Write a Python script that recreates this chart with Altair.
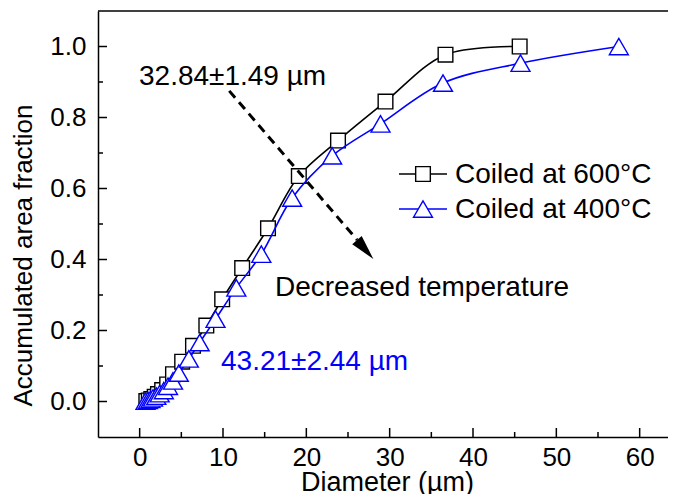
import altair as alt
import pandas as pd

# ---- data ----
x600 = [0.8, 1.1, 1.4, 1.8, 2.2, 2.7, 3.3, 4.0, 5.1, 6.4, 8.0, 9.9, 12.3, 15.4, 19.1, 23.8, 29.5, 36.7, 45.6]
y600 = [0.001, 0.003, 0.007, 0.013, 0.021, 0.032, 0.048, 0.077, 0.112, 0.157, 0.214, 0.288, 0.376, 0.488, 0.635, 0.735, 0.845, 0.977, 1.0]

x400 = [0.7, 1.0, 1.3, 1.6, 2.0, 2.4, 2.9, 3.4, 4.0, 4.7, 5.9, 7.2, 9.1, 11.6, 14.6, 18.3, 23.1, 28.9, 36.4, 45.7, 57.5]
y400 = [0.001, 0.003, 0.006, 0.010, 0.015, 0.022, 0.031, 0.043, 0.058, 0.080, 0.120, 0.166, 0.232, 0.320, 0.415, 0.573, 0.692, 0.782, 0.897, 0.953, 1.0]

series_labels = ["Coiled at 600°C", "Coiled at 400°C"]
annotations = ["32.84±1.49 µm", "43.21±2.44 µm", "Decreased temperature"]

x_major = [0, 10, 20, 30, 40, 50, 60]
x_minor = [5, 15, 25, 35, 45, 55]
y_major = [0.0, 0.2, 0.4, 0.6, 0.8, 1.0]
y_minor = [0.1, 0.3, 0.5, 0.7, 0.9]

# ---- layout / style ----
W, H = 570, 426
FONT = "Liberation Sans"
BLUE = "#0000FF"
BLACK = "#000000"
TXT = 28

xs = alt.Scale(domain=[-5, 63.4], nice=False, zero=False)
ys = alt.Scale(domain=[-0.1, 1.1], nice=False, zero=False)

df600 = pd.DataFrame({"d": x600, "f": y600})
df400 = pd.DataFrame({"d": x400, "f": y400})

ax_x = alt.Axis(orient="bottom", values=x_major, format="d", ticks=False, grid=False,
                labelFont=FONT, labelFontSize=26, labelColor=BLACK, labelPadding=7, labelFlush=False,
                title="Diameter (µm)", titleFont=FONT, titleFontSize=27, titleFontWeight="normal",
                titleColor=BLACK, titleX=289, titleY=53, titleBaseline="alphabetic",
                domainColor=BLACK, domainWidth=1.5)
ax_y = alt.Axis(orient="left", values=y_major, format=".1f", ticks=False, grid=False,
                labelFont=FONT, labelFontSize=26, labelColor=BLACK, labelPadding=12, labelFlush=False,
                title="Accumulated area fraction", titleFont=FONT, titleFontSize=26,
                titleFontWeight="normal", titleColor=BLACK, titleAngle=270, titleX=-67, titleY=244,
                titleBaseline="alphabetic", titleAlign="center",
                domainColor=BLACK, domainWidth=1.5)

line600 = alt.Chart(df600).mark_line(color=BLACK, strokeWidth=1.6, interpolate="catmull-rom").encode(
    x=alt.X("d:Q", scale=xs, axis=ax_x),
    y=alt.Y("f:Q", scale=ys, axis=ax_y),
)
pts600 = alt.Chart(df600).mark_point(shape="square", size=215, filled=True, fill="white",
                                     stroke=BLACK, strokeWidth=1.4, opacity=1).encode(
    x=alt.X("d:Q", scale=xs, axis=None),
    y=alt.Y("f:Q", scale=ys, axis=None),
)
line400 = alt.Chart(df400).mark_line(color=BLUE, strokeWidth=1.6, interpolate="catmull-rom").encode(
    x=alt.X("d:Q", scale=xs, axis=None),
    y=alt.Y("f:Q", scale=ys, axis=None),
)
pts400 = alt.Chart(df400).mark_point(shape="triangle-up", size=360, filled=True, fill="white",
                                     stroke=BLUE, strokeWidth=1.4, opacity=1).encode(
    x=alt.X("d:Q", scale=xs, axis=None),
    y=alt.Y("f:Q", scale=ys, axis=None),
)

# ---- inward ticks and top frame line ----
def xticks(vals, length):
    return alt.Chart(pd.DataFrame({"v": vals})).mark_rule(color=BLACK, strokeWidth=1.5).encode(
        x=alt.X("v:Q", scale=xs, axis=None), y=alt.value(H), y2=alt.value(H - length))

def yticks(vals, length):
    return alt.Chart(pd.DataFrame({"v": vals})).mark_rule(color=BLACK, strokeWidth=1.5).encode(
        y=alt.Y("v:Q", scale=ys, axis=None), x=alt.value(0), x2=alt.value(length))

top_line = alt.Chart(pd.DataFrame({"a": [0]})).mark_rule(color=BLACK, strokeWidth=1.5).encode(
    x=alt.value(0), x2=alt.value(W), y=alt.value(0))

# ---- annotations ----
arrow_line = alt.Chart(pd.DataFrame({"a": [0]})).mark_rule(
    color=BLACK, strokeWidth=3, strokeDash=[9, 6]).encode(
    x=alt.XDatum(10.75, scale=xs, axis=None),
    y=alt.YDatum(0.875, scale=ys, axis=None),
    x2=alt.X2Datum(26.1),
    y2=alt.Y2Datum(0.455),
)
arrow_head = alt.Chart(pd.DataFrame({"a": [0]})).mark_point(
    shape="M0,1L-0.5,-1L0.5,-1Z", size=625, filled=True, fill=BLACK, angle=319, opacity=1).encode(
    x=alt.XDatum(27.06, scale=xs, axis=None),
    y=alt.YDatum(0.428, scale=ys, axis=None),
)

def label(text, x, y, color=BLACK, size=TXT):
    return alt.Chart(pd.DataFrame({"t": [text]})).mark_text(
        font=FONT, fontSize=size, color=color, align="left", baseline="alphabetic").encode(
        text="t:N", x=alt.value(x), y=alt.value(y))

txt1 = label(annotations[0], 41, 74)
txt2 = label(annotations[1], 123, 359, color=BLUE)
txt3 = label(annotations[2], 177, 285)

# ---- legend (manual) ----
def legend_row(i, color, shape, size, y):
    d = pd.DataFrame({"t": [series_labels[i]]})
    rule = alt.Chart(d).mark_rule(color=color, strokeWidth=1.6).encode(
        x=alt.value(301), x2=alt.value(349), y=alt.value(y))
    sym = alt.Chart(d).mark_point(shape=shape, size=size, filled=True, fill="white",
                                  stroke=color, strokeWidth=1.4, opacity=1).encode(
        x=alt.value(325), y=alt.value(y))
    txt = alt.Chart(d).mark_text(font=FONT, fontSize=TXT, color=BLACK, align="left",
                                 baseline="alphabetic").encode(
        text="t:N", x=alt.value(357), y=alt.value(y + 9))
    return rule + sym + txt

leg1 = legend_row(0, BLACK, "square", 215, 163)
leg2 = legend_row(1, BLUE, "triangle-up", 360, 198)

chart = alt.layer(
    line600, xticks(x_major, 9), xticks(x_minor, 5), yticks(y_major, 9), yticks(y_minor, 5), top_line,
    pts600, line400, pts400, arrow_line, arrow_head, txt1, txt2, txt3, leg1, leg2
).resolve_axis(x="independent", y="independent").properties(
    width=W, height=H,
    autosize=alt.AutoSizeParams(type="none"),
    padding={"left": 90, "top": 3, "right": 0, "bottom": 57},
    background="white",
).configure_view(strokeWidth=0, strokeOpacity=0)

chart.save("out.html", embed_options={"renderer": "svg", "actions": False})
